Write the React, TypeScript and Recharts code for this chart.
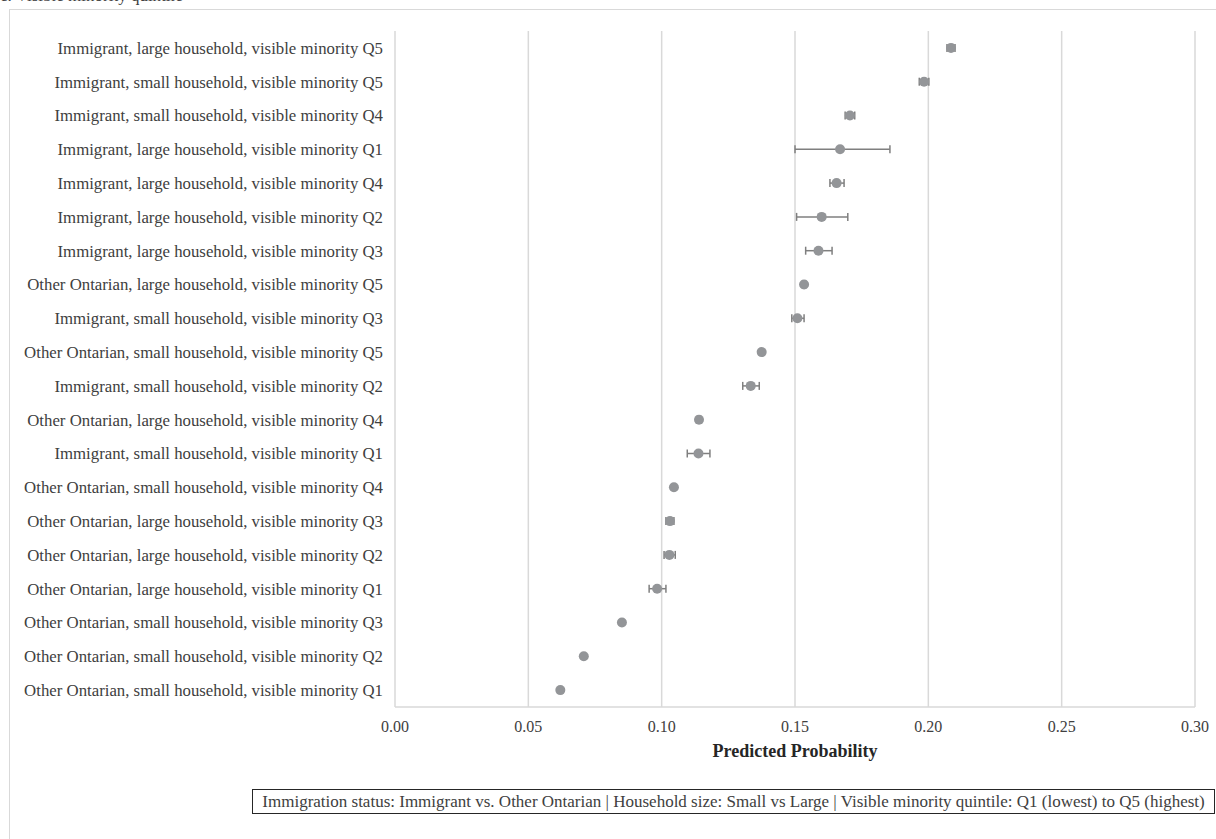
import { CartesianGrid, ErrorBar, Scatter, ScatterChart, XAxis, YAxis } from "recharts";

const GRID = "#d9d9d9";
const DOT = "#939598";
const WHISKER = "#7f7f7f";
const TEXT = "#404040";
const FONT = "'Liberation Serif', 'Times New Roman', serif";

const groupLabels = [
  "Immigrant, large household, visible minority Q5",
  "Immigrant, small household, visible minority Q5",
  "Immigrant, small household, visible minority Q4",
  "Immigrant, large household, visible minority Q1",
  "Immigrant, large household, visible minority Q4",
  "Immigrant, large household, visible minority Q2",
  "Immigrant, large household, visible minority Q3",
  "Other Ontarian, large household, visible minority Q5",
  "Immigrant, small household, visible minority Q3",
  "Other Ontarian, small household, visible minority Q5",
  "Immigrant, small household, visible minority Q2",
  "Other Ontarian, large household, visible minority Q4",
  "Immigrant, small household, visible minority Q1",
  "Other Ontarian, small household, visible minority Q4",
  "Other Ontarian, large household, visible minority Q3",
  "Other Ontarian, large household, visible minority Q2",
  "Other Ontarian, large household, visible minority Q1",
  "Other Ontarian, small household, visible minority Q3",
  "Other Ontarian, small household, visible minority Q2",
  "Other Ontarian, small household, visible minority Q1",
];

const predicted = [
  0.2085, 0.1984, 0.1706, 0.1669, 0.1656, 0.16, 0.1588, 0.1534, 0.1509, 0.1375,
  0.1334, 0.114, 0.1138, 0.1046, 0.1031, 0.1029, 0.0983, 0.0851, 0.0708, 0.062,
];
const lowerCI = [
  0.207, 0.1966, 0.1688, 0.15, 0.1631, 0.1506, 0.154, 0.1527, 0.1488, 0.1369,
  0.1304, 0.1131, 0.1096, 0.1041, 0.1016, 0.1009, 0.0953, 0.0846, 0.0703, 0.0615,
];
const upperCI = [
  0.21, 0.2002, 0.1724, 0.1856, 0.1684, 0.1698, 0.1639, 0.1541, 0.1534, 0.1381,
  0.1366, 0.1149, 0.1181, 0.1051, 0.1046, 0.1051, 0.1016, 0.0856, 0.0713, 0.0625,
];

const xTicks = [0, 0.05, 0.1, 0.15, 0.2, 0.25, 0.3];

const rows = groupLabels.map((label, i) => ({
  label,
  value: predicted[i],
  err: [predicted[i] - lowerCI[i], upperCI[i] - predicted[i]],
}));

function Dot(props: { cx?: number; cy?: number }) {
  if (props.cx == null || props.cy == null) return null;
  return <circle cx={props.cx} cy={props.cy} r={5} fill={DOT} />;
}

export default function App() {
  return (
    <div
      style={{
        position: "absolute",
        left: 0,
        top: 0,
        width: 1216,
        height: 839,
        overflow: "hidden",
        background: "#fff",
        fontFamily: FONT,
      }}
    >
      <div
        style={{
          position: "absolute",
          left: 0,
          top: -14,
          fontSize: 17,
          color: TEXT,
          whiteSpace: "nowrap",
        }}
      >
        c. Visible minority quintile
      </div>
      <div
        style={{
          position: "absolute",
          left: 9,
          top: 9,
          width: 1300,
          height: 1000,
          border: `1.5px solid ${GRID}`,
        }}
      />
      <div style={{ position: "absolute", left: 0, top: 0 }}>
        <ScatterChart
          width={1216}
          height={839}
          margin={{ top: 31, right: 21, bottom: 82, left: 0 }}
        >
          <CartesianGrid horizontal={false} stroke={GRID} strokeWidth={1.5} />
          <XAxis
            type="number"
            dataKey="value"
            domain={[0, 0.3]}
            ticks={xTicks}
            tickFormatter={(v: number) => v.toFixed(2)}
            tick={{ fontSize: 16, fill: TEXT, fontFamily: FONT }}
            tickLine={false}
            tickSize={0}
            tickMargin={14}
            axisLine={{ stroke: GRID, strokeWidth: 1.5 }}
            height={50}
            label={{
              value: "Predicted Probability",
              position: "insideBottom",
              offset: 0,
              fontSize: 18,
              fontWeight: "bold",
              fill: "#262626",
              fontFamily: FONT,
            }}
          />
          <YAxis
            type="category"
            dataKey="label"
            reversed
            width={395}
            tick={{ fontSize: 16.8, fill: TEXT, fontFamily: FONT }}
            tickLine={false}
            tickSize={0}
            tickMargin={12}
            axisLine={false}
            interval={0}
          />
          <Scatter data={rows} shape={<Dot />} isAnimationActive={false}>
            <ErrorBar
              dataKey="err"
              direction="x"
              width={4}
              stroke={WHISKER}
              strokeWidth={1.5}
              isAnimationActive={false}
            />
          </Scatter>
        </ScatterChart>
      </div>
      <div
        style={{
          position: "absolute",
          left: 252,
          top: 789,
          width: 963,
          height: 25,
          border: "1.5px solid #262626",
          boxSizing: "border-box",
          fontSize: 17,
          color: TEXT,
          display: "flex",
          alignItems: "center",
          justifyContent: "center",
          whiteSpace: "nowrap",
        }}
      >
        Immigration status: Immigrant vs. Other Ontarian | Household size: Small vs Large | Visible
        minority quintile: Q1 (lowest) to Q5 (highest)
      </div>
    </div>
  );
}
